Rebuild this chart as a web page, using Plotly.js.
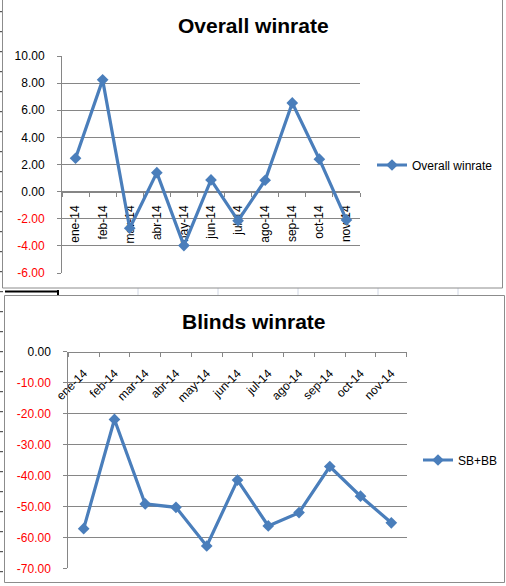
<!DOCTYPE html>
<html>
<head>
<meta charset="utf-8">
<script src="https://cdn.plot.ly/plotly-3.0.1.min.js"></script>
<style>
  body { margin: 0; background: #fff; }
  #chart { width: 506px; height: 586px; }
</style>
</head>
<body>
<div id="chart"></div>
<script>
const months = ['ene-14', 'feb-14', 'mar-14', 'abr-14', 'may-14', 'jun-14',
                'jul-14', 'ago-14', 'sep-14', 'oct-14', 'nov-14'];

const overall = [2.46, 8.24, -2.70, 1.40, -3.98, 0.86, -2.14, 0.84, 6.54, 2.39, -2.09];
const blinds = [-57.2, -21.9, -49.2, -50.3, -62.8, -41.5, -56.3, -52.0, -37.1, -46.7, -55.3];

const overallTickVals = [10, 8, 6, 4, 2, 0, -2, -4, -6];
const overallTickText = ['10.00', '8.00', '6.00', '4.00', '2.00', '0.00', '-2.00', '-4.00', '-6.00'];
const blindsTickVals = [0, -10, -20, -30, -40, -50, -60, -70];
const blindsTickText = ['0.00', '-10.00', '-20.00', '-30.00', '-40.00', '-50.00', '-60.00', '-70.00'];

const W = 506, H = 586;
const BLUE = '#4a7ebb';
const GRID = '#868686';
const FONT = 'Liberation Sans, Arial, sans-serif';

// pixel helpers for layout only
const px = v => v / W;
const py = v => 1 - v / H;

// red for negatives, like the Excel number format
const colour = t => t.startsWith('-') ? '<span style="color:#ff0000">' + t + '</span>' : t;

const dom1y = [py(273), py(56)];
const dom2y = [py(568.3), py(351.7)];
const zero1 = dom1y[0] + (0 - (-6)) / 16 * (dom1y[1] - dom1y[0]);

const trace1 = {
    x: months,
    y: overall,
    name: 'Overall winrate',
    type: 'scatter',
    mode: 'lines+markers',
    line: { color: BLUE, width: 3.2 },
    marker: { symbol: 'diamond', size: 9, color: BLUE },
    xaxis: 'x',
    yaxis: 'y',
    legend: 'legend'
};

const trace2 = {
    x: months,
    y: blinds,
    name: 'SB+BB',
    type: 'scatter',
    mode: 'lines+markers',
    line: { color: BLUE, width: 3.2 },
    marker: { symbol: 'diamond', size: 9, color: BLUE },
    xaxis: 'x2',
    yaxis: 'y2',
    legend: 'legend2'
};

const catAxis = {
    type: 'category',
    range: [-0.5, 10.5],
    showgrid: false,
    showline: true,
    linecolor: GRID,
    linewidth: 1,
    ticks: 'outside',
    ticklen: 4,
    tickcolor: GRID,
    tickson: 'boundaries',
    tickfont: { family: FONT, size: 12, color: '#000' },
    anchor: 'free',
    side: 'bottom',
    layer: 'below traces',
    fixedrange: true
};

const valAxis = {
    showgrid: true,
    gridcolor: GRID,
    gridwidth: 1,
    zeroline: false,
    showline: true,
    linecolor: GRID,
    linewidth: 1,
    ticks: 'outside',
    ticklen: 4,
    tickcolor: GRID,
    tickmode: 'array',
    tickfont: { family: FONT, size: 12, color: '#000' },
    ticklabelstandoff: 10,
    fixedrange: true
};

// sheet decoration: row marks at the left edge, cell strip between the charts
const shapes = [];
for (let y = 11.7; y < H; y += 20) {
    shapes.push({ type: 'line', xref: 'paper', yref: 'paper',
        x0: 0, x1: px(3), y0: py(y), y1: py(y), line: { color: '#333', width: 1 } });
}
[138, 218, 298, 378, 458].forEach(x => {
    shapes.push({ type: 'line', xref: 'paper', yref: 'paper',
        x0: px(x), x1: px(x), y0: py(288), y1: py(295), line: { color: '#d0d7e5', width: 1 } });
});
shapes.push({ type: 'line', xref: 'paper', yref: 'paper',
    x0: px(5), x1: px(58), y0: py(291.5), y1: py(291.5), line: { color: '#000', width: 2 } });
shapes.push({ type: 'line', xref: 'paper', yref: 'paper',
    x0: px(58), x1: px(58), y0: py(290), y1: py(295), line: { color: '#000', width: 2 } });
// chart frames
shapes.push({ type: 'rect', xref: 'paper', yref: 'paper',
    x0: px(2.5), x1: px(502.5), y0: py(288), y1: py(-2), line: { color: '#8c8c8c', width: 1 } });
shapes.push({ type: 'rect', xref: 'paper', yref: 'paper',
    x0: px(4.5), x1: px(504.5), y0: py(582.5), y1: py(295.5), line: { color: '#8c8c8c', width: 1 } });

const layout = {
    width: W,
    height: H,
    margin: { l: 0, r: 0, t: 0, b: 0 },
    paper_bgcolor: '#ffffff',
    plot_bgcolor: 'rgba(0,0,0,0)',
    font: { family: FONT, color: '#000' },
    showlegend: true,
    xaxis: Object.assign({}, catAxis, {
        domain: [px(62), px(360)],
        position: zero1,
        tickangle: -90,
        ticklabelstandoff: 8
    }),
    yaxis: Object.assign({}, valAxis, {
        domain: dom1y,
        anchor: 'x',
        range: [-6, 10],
        tickvals: overallTickVals,
        ticktext: overallTickText.map(colour)
    }),
    xaxis2: Object.assign({}, catAxis, {
        domain: [px(68.3), px(406.7)],
        position: dom2y[1],
        tickangle: -45,
        ticklabelstandoff: 9
    }),
    yaxis2: Object.assign({}, valAxis, {
        domain: dom2y,
        anchor: 'x2',
        range: [-70, 0],
        tickvals: blindsTickVals,
        ticktext: blindsTickText.map(colour)
    }),
    legend: {
        x: px(372), y: py(165), xanchor: 'left', yanchor: 'middle',
        bgcolor: 'rgba(0,0,0,0)', font: { family: FONT, size: 12, color: '#000' },
        itemclick: false, itemdoubleclick: false
    },
    legend2: {
        x: px(418), y: py(460), xanchor: 'left', yanchor: 'middle',
        bgcolor: 'rgba(0,0,0,0)', font: { family: FONT, size: 12, color: '#000' },
        itemclick: false, itemdoubleclick: false
    },
    annotations: [
        { text: '<b>Overall winrate</b>', xref: 'paper', yref: 'paper',
          x: px(253.5), y: py(26), xanchor: 'center', yanchor: 'middle', showarrow: false,
          font: { family: FONT, size: 21, color: '#000' } },
        { text: '<b>Blinds winrate</b>', xref: 'paper', yref: 'paper',
          x: px(253.8), y: py(321), xanchor: 'center', yanchor: 'middle', showarrow: false,
          font: { family: FONT, size: 21, color: '#000' } }
    ],
    shapes
};

Plotly.newPlot('chart', [trace1, trace2], layout, { displayModeBar: false, staticPlot: true });
</script>
</body>
</html>
